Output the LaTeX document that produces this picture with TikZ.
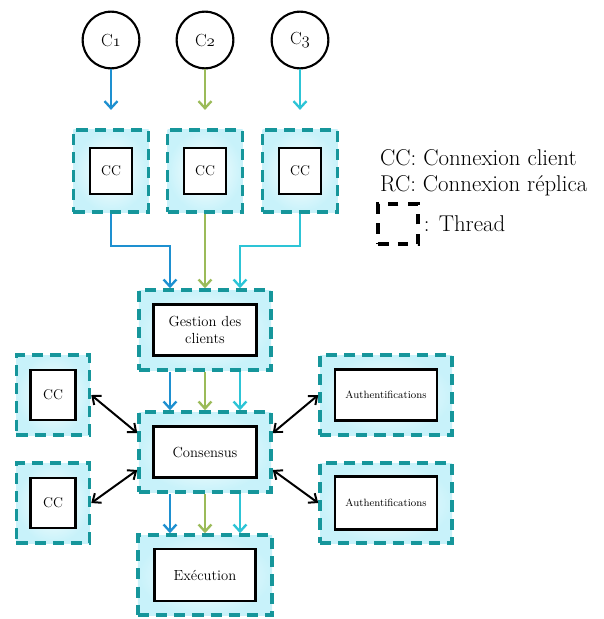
\documentclass[tikz,border=0pt]{standalone}
\usepackage{fontspec}
\usepackage{tikz}
\usetikzlibrary{positioning,arrows.meta}
\definecolor{cblue}{RGB}{30,144,208}
\definecolor{cgreen}{RGB}{155,187,89}
\definecolor{ccyan}{RGB}{45,196,214}
\definecolor{tteal}{RGB}{22,150,155}
\definecolor{tfill}{RGB}{200,242,250}
\newcommand{\osn}[1]{$\mathnormal{#1}$}

\begin{document}
\begin{tikzpicture}[x=0.03cm, y=-0.03cm,
    thread/.style={draw=tteal, inner color=white, outer color=tfill, line width=3pt, dash pattern=on 9.5pt off 6pt, inner sep=0pt},
    task/.style={draw, fill=white, line width=2pt, inner sep=1pt, align=center},
    client/.style={draw, circle, line width=1.8pt, minimum size=1.7cm, fill=white, font=\fontsize{15}{17}\selectfont},
    flow/.style={-{Straight Barb[length=6pt,width=11pt]}, line width=2pt},
    link/.style={{Straight Barb[length=6pt,width=10pt]}-{Straight Barb[length=6pt,width=10pt]}, line width=1.7pt}]
        \useasboundingbox (0,0) rectangle (603,619);

        % Clients
        \node[client] (c1) at (111,40) {C\osn{1}};
        \node[client] (c2) at (205,40) {C\osn{2}};
        \node[client] (c3) at (300,40) {C\osn{3}};

        % Client connection threads
        \node[thread, minimum width=2.25cm, minimum height=2.46cm] (tcc1) at (111,171) {};
        \node[thread, minimum width=2.25cm, minimum height=2.46cm] (tcc2) at (205,171) {};
        \node[thread, minimum width=2.25cm, minimum height=2.46cm] (tcc3) at (300,171) {};
        \node[task, minimum width=1.26cm, minimum height=1.38cm, font=\fontsize{12}{14}\selectfont] (cc1) at (tcc1) {CC};
        \node[task, minimum width=1.26cm, minimum height=1.38cm, font=\fontsize{12}{14}\selectfont] (cc2) at (tcc2) {CC};
        \node[task, minimum width=1.26cm, minimum height=1.38cm, font=\fontsize{12}{14}\selectfont] (cc3) at (tcc3) {CC};

        % Central threads
        \node[thread, minimum width=3.96cm, minimum height=2.4cm] (tgest) at (205,330) {};
        \node[task, minimum width=3.09cm, minimum height=1.53cm, font=\fontsize{12.5}{15}\selectfont] (gest) at (tgest) {Gestion des\\clients};
        \node[thread, minimum width=3.96cm, minimum height=2.4cm] (tcons) at (205,452) {};
        \node[task, minimum width=3.09cm, minimum height=1.53cm, font=\fontsize{12.5}{15}\selectfont] (cons) at (tcons) {Consensus};
        \node[thread, minimum width=4.02cm, minimum height=2.4cm] (texec) at (205,575) {};
        \node[task, minimum width=3.03cm, minimum height=1.56cm, font=\fontsize{12.5}{15}\selectfont] (exec) at (texec) {Exécution};

        % Side threads
        \node[thread, minimum width=2.19cm, minimum height=2.4cm] (tlcc1) at (53,395) {};
        \node[task, minimum width=1.35cm, minimum height=1.5cm, font=\fontsize{12}{14}\selectfont] (lcc1) at (tlcc1) {CC};
        \node[thread, minimum width=2.19cm, minimum height=2.4cm] (tlcc2) at (53,503) {};
        \node[task, minimum width=1.35cm, minimum height=1.5cm, font=\fontsize{12}{14}\selectfont] (lcc2) at (tlcc2) {CC};
        \node[thread, minimum width=3.96cm, minimum height=2.4cm] (tauth1) at (386,395) {};
        \node[task, minimum width=3.06cm, minimum height=1.53cm, font=\fontsize{9}{11}\selectfont] (auth1) at (tauth1) {Authentifications};
        \node[thread, minimum width=3.96cm, minimum height=2.4cm] (tauth2) at (386,503) {};
        \node[task, minimum width=3.06cm, minimum height=1.59cm, font=\fontsize{9}{11}\selectfont] (auth2) at (tauth2) {Authentifications};

        % Legend
        \node[anchor=west, font=\fontsize{19.5}{22}\selectfont] (lcc) at (376,158) {CC: Connexion client};
        \node[anchor=west, font=\fontsize{19.5}{22}\selectfont] (lrc) at (376,186) {RC: Connexion réplica};
        \node[draw, line width=3pt, dash pattern=on 9pt off 8pt, minimum size=1.2cm] (lthread) at (398,224) {};
        \node[right=0cm of lthread, font=\fontsize{19.5}{22}\selectfont] (lthtxt) {: Thread};

        % Client requests
        \draw[flow, cblue] (c1) -- (tcc1) [shorten >=0.55cm];
        \draw[flow, cgreen] (c2) -- (tcc2) [shorten >=0.55cm];
        \draw[flow, ccyan] (c3) -- (tcc3) [shorten >=0.55cm];

        \draw[flow, cblue] (tcc1.south) -- ++(0,32) -| ([xshift=-1.05cm]tgest.north);
        \draw[flow, cgreen] (tcc2.south) -- (tgest.north);
        \draw[flow, ccyan] (tcc3.south) -- ++(0,32) -| ([xshift=1.05cm]tgest.north);

        \draw[flow, cblue] ([xshift=-1.05cm]tgest.south) -- ([xshift=-1.05cm]tcons.north);
        \draw[flow, cgreen] (tgest.south) -- (tcons.north);
        \draw[flow, ccyan] ([xshift=1.05cm]tgest.south) -- ([xshift=1.05cm]tcons.north);

        \draw[flow, cblue] ([xshift=-1.05cm]tcons.south) -- ([xshift=-1.05cm]texec.north);
        \draw[flow, cgreen] (tcons.south) -- (texec.north);
        \draw[flow, ccyan] ([xshift=1.05cm]tcons.south) -- ([xshift=1.05cm]texec.north);

        % Exchanges with the consensus
        \draw[link] (tlcc1.east) -- ([yshift=0.57cm]tcons.west);
        \draw[link] (tlcc2.east) -- ([yshift=-0.54cm]tcons.west);
        \draw[link] (tauth1.west) -- ([yshift=0.57cm]tcons.east);
        \draw[link] (tauth2.west) -- ([yshift=-0.54cm]tcons.east);
\end{tikzpicture}
\end{document}
